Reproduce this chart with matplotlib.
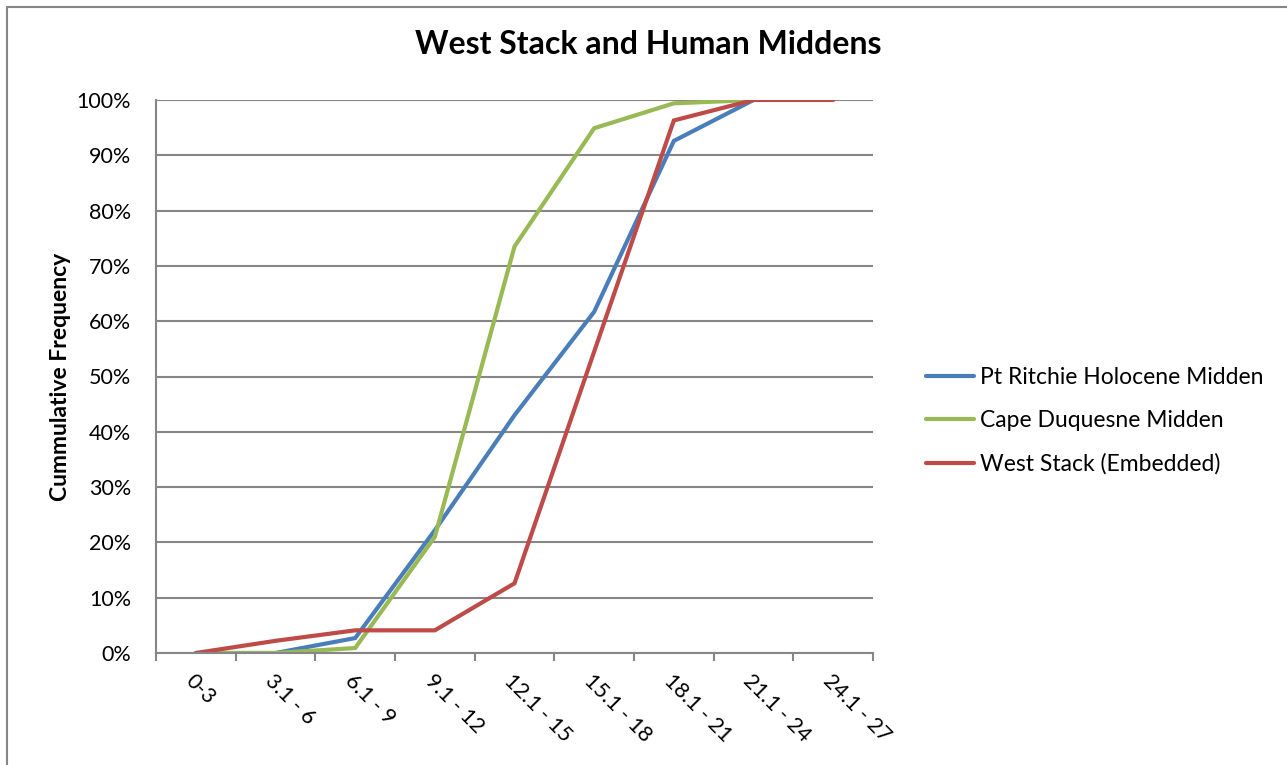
import numpy as np
import matplotlib
matplotlib.use("Agg")
import matplotlib.pyplot as plt
from matplotlib.patches import Rectangle
from matplotlib.ticker import PercentFormatter

plt.rcParams['font.family'] = ['Lato', 'DejaVu Sans']

bins = ["0-3", "3.1 - 6", "6.1 - 9", "9.1 - 12", "12.1 - 15",
        "15.1 - 18", "18.1 - 21", "21.1 - 24", "24.1 - 27"]

# cumulative frequency (%)
pt_ritchie = [0, 0, 2.7, 22.2, 43.0, 61.7, 92.6, 100]
cape_duquesne = [0, 0, 0.9, 21.0, 73.5, 94.9, 99.4, 100]
west_stack = [0, 2.2, 4.1, 4.1, 12.6, 54.5, 96.3, 100, 100]

names = ["Pt Ritchie Holocene Midden", "Cape Duquesne Midden", "West Stack (Embedded)"]
colors = ["#4A7EBB", "#98B954", "#BE4B48"]

W, H = 1287, 765
fig = plt.figure(figsize=(W / 100, H / 100), dpi=100)
ax = fig.add_axes([156 / W, 1 - 653 / H, (873 - 156) / W, (653 - 100) / H])

# outer chart border
fig.patches.append(Rectangle((7 / W, -0.05), 1.1, 1 - 7 / H + 0.05,
                             transform=fig.transFigure, fill=False,
                             edgecolor="#868686", linewidth=1.5))

for vals, name, c in zip([pt_ritchie, cape_duquesne, west_stack], names, colors):
    ax.plot(np.arange(len(vals)), vals, color=c, linewidth=3, label=name,
            solid_capstyle="round", solid_joinstyle="miter")

ax.set_xlim(-0.5, len(bins) - 0.5)
ax.set_ylim(0, 100)
ax.set_yticks(np.arange(0, 101, 10))
ax.yaxis.set_major_formatter(PercentFormatter(decimals=0))
ax.grid(axis="y", color="#868686", linewidth=1.5)
ax.set_axisbelow(True)

ax.set_xticks(np.arange(len(bins)))
ax.set_xticklabels(bins, rotation=-45, ha="left", va="top",
                   rotation_mode="anchor", fontsize=15.5)
ax.set_xticks(np.arange(len(bins) + 1) - 0.5, minor=True)
ax.tick_params(axis="x", which="major", length=0, pad=13)
ax.tick_params(axis="x", which="minor", length=6, width=1.5, color="#868686")
ax.tick_params(axis="y", length=0, labelsize=15.5, pad=18)

for s in ["top", "right"]:
    ax.spines[s].set_visible(False)
for s in ["left", "bottom"]:
    ax.spines[s].set_color("#868686")
    ax.spines[s].set_linewidth(1.5)

ax.set_ylabel("Cummulative Frequency", fontsize=16.5, fontweight="bold", labelpad=4)
fig.text(648 / W, 1 - 45 / H, "West Stack and Human Middens",
         ha="center", va="center", fontsize=23, fontweight="bold")

fig.legend(loc="center left", bbox_to_anchor=(926 / W, 1 - 421 / H),
           frameon=False, fontsize=16.5, handlelength=2.1, handletextpad=0.25,
           labelspacing=0.95, borderpad=0, borderaxespad=0)

fig.savefig("out.png", dpi=100)
